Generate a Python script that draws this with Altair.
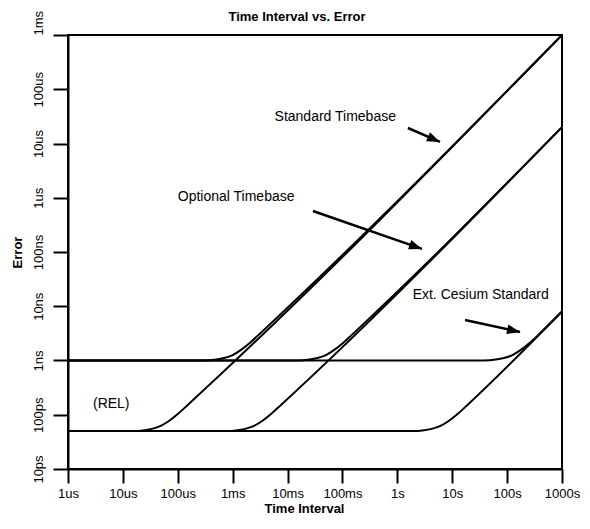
import altair as alt
import pandas as pd

# ---- axis ticks ----
x_tick_values = [1e-6, 1e-5, 1e-4, 1e-3, 1e-2, 1e-1, 1, 10, 100, 1000]
x_tick_labels = ["1us", "10us", "100us", "1ms", "10ms", "100ms", "1s", "10s", "100s", "1000s"]
y_tick_values = [1e-11, 1e-10, 1e-9, 1e-8, 1e-7, 1e-6, 1e-5, 1e-4, 1e-3]
y_tick_labels = ["10ps", "100ps", "1ns", "10ns", "100ns", "1us", "10us", "100us", "1ms"]

# ---- curves (time interval [s], error [s]) ----
std_1ns_t = [1e-6, 3e-4, 5e-4, 7e-4, 1e-3, 1.4e-3, 2e-3, 3e-3, 1e3]
std_1ns_e = [1e-9, 1e-9, 1.04e-9, 1.11e-9, 1.26e-9, 1.55e-9, 2.05e-9, 3e-9, 1e-3]
std_rel_t = [1e-6, 1.5e-5, 2.5e-5, 3.5e-5, 5e-5, 7e-5, 1e-4, 1.5e-4, 1e3]
std_rel_e = [5e-11, 5e-11, 5.2e-11, 5.55e-11, 6.3e-11, 7.75e-11, 1.03e-10, 1.5e-10, 1e-3]

opt_1ns_t = [1e-6, 1.5e-2, 2.5e-2, 3.5e-2, 5e-2, 7e-2, 1e-1, 1.5e-1, 1e3]
opt_1ns_e = [1e-9, 1e-9, 1.04e-9, 1.11e-9, 1.26e-9, 1.55e-9, 2.05e-9, 3e-9, 2e-5]
opt_rel_t = [1e-6, 7.5e-4, 1.25e-3, 1.75e-3, 2.5e-3, 3.5e-3, 5e-3, 7.5e-3, 1e3]
opt_rel_e = [5e-11, 5e-11, 5.2e-11, 5.55e-11, 6.3e-11, 7.75e-11, 1.03e-10, 1.5e-10, 2e-5]

ces_1ns_t = [1e-6, 37.5, 62.5, 87.5, 125, 175, 250, 375, 1e3]
ces_1ns_e = [1e-9, 1e-9, 1.04e-9, 1.11e-9, 1.26e-9, 1.55e-9, 2.05e-9, 3e-9, 8e-9]
ces_rel_t = [1e-6, 1.9, 3.1, 4.4, 6.25, 8.75, 12.5, 18.75, 1e3]
ces_rel_e = [5e-11, 5e-11, 5.2e-11, 5.55e-11, 6.3e-11, 7.75e-11, 1.03e-10, 1.5e-10, 8e-9]

# ---- annotations ----
label_texts = ["Standard Timebase", "Optional Timebase", "Ext. Cesium Standard", "(REL)"]
label_t = [5.8e-3, 1.0e-4, 1.9, 2.85e-6]
label_e = [3.08e-5, 1.03e-6, 1.61e-8, 1.58e-10]

arrow_t1 = [1.56, 0.029, 17.1]
arrow_e1 = [1.93e-5, 5.7e-7, 5.58e-9]
arrow_t2 = [5.98, 2.81, 172.0]
arrow_e2 = [1.07e-5, 1.14e-7, 3.35e-9]

W, H = 494, 434
X_DEC, Y_DEC = 9, 8

curves = [
    ("std_1ns", std_1ns_t, std_1ns_e), ("std_rel", std_rel_t, std_rel_e),
    ("opt_1ns", opt_1ns_t, opt_1ns_e), ("opt_rel", opt_rel_t, opt_rel_e),
    ("ces_1ns", ces_1ns_t, ces_1ns_e), ("ces_rel", ces_rel_t, ces_rel_e),
]
rows = []
for name, ts, es in curves:
    for i, (t, e) in enumerate(zip(ts, es)):
        rows.append({"curve": name, "i": i, "t": t, "e": e})
curve_df = pd.DataFrame(rows)
label_df = pd.DataFrame({"text": label_texts, "t": label_t, "e": label_e})
arrow_df = pd.DataFrame({"t1": arrow_t1, "e1": arrow_e1, "t2": arrow_t2, "e2": arrow_e2})

def js_list(items):
    return "[" + ",".join("'" + s + "'" for s in items) + "]"

x_expr = js_list(x_tick_labels) + "[round(log(datum.value)/LN10)+6]"
y_expr = js_list(y_tick_labels) + "[round(log(datum.value)/LN10)+11]"

FONT = "Liberation Sans"

xscale = alt.Scale(type="log", domain=[1e-6, 1e3], nice=False)
yscale = alt.Scale(type="log", domain=[1e-11, 1e-3], nice=False)

xaxis = alt.Axis(values=x_tick_values, labelExpr=x_expr, title="Time Interval",
                 labelFlush=False, labelOverlap=False, labelPadding=4, titlePadding=2,
                 tickSize=14, titleX=236, titleAlign="center")
yaxis = alt.Axis(values=y_tick_values, labelExpr=y_expr, title="Error",
                 labelFlush=False, labelOverlap=False, labelAngle=270,
                 labelAlign={"condition": {"test": "datum.value > 0.0009", "value": "left"},
                             "value": "center"},
                 labelBaseline="bottom", labelPadding=8, titlePadding=8)

lines = alt.Chart(curve_df).mark_line(color="black", strokeWidth=2, interpolate="monotone").encode(
    x=alt.X("t:Q", scale=xscale, axis=xaxis),
    y=alt.Y("e:Q", scale=yscale, axis=yaxis),
    detail="curve:N",
    order="i:Q",
)

texts = alt.Chart(label_df).mark_text(align="left", baseline="middle", font=FONT,
                                      fontSize=14, color="black").encode(
    x=alt.X("t:Q", scale=xscale),
    y=alt.Y("e:Q", scale=yscale),
    text="text:N",
)

arrow_lines = alt.Chart(arrow_df).mark_rule(color="black", strokeWidth=2.5).encode(
    x=alt.X("t1:Q", scale=xscale), y=alt.Y("e1:Q", scale=yscale),
    x2="t2:Q", y2="e2:Q",
)

arrow_heads = alt.Chart(arrow_df).transform_calculate(
    ang="atan2(-(log(datum.e2)-log(datum.e1))/LN10*%f, (log(datum.t2)-log(datum.t1))/LN10*%f)*180/PI"
    % (H / Y_DEC, W / X_DEC)
).mark_point(shape="M0,0 L-1,-0.38 L-1,0.38 Z", filled=True, color="black",
             size=676, opacity=1, strokeWidth=0).encode(
    x=alt.X("t2:Q", scale=xscale), y=alt.Y("e2:Q", scale=yscale),
    angle=alt.Angle("ang:Q", scale=None),
)

chart = alt.layer(lines, arrow_lines, arrow_heads, texts).properties(
    width=W, height=H,
    title=alt.TitleParams("Time Interval vs. Error", font=FONT, fontSize=13,
                          fontWeight="bold", offset=-14, dx=-18, color="black"),
    autosize=alt.AutoSizeParams(type="none"),
    padding={"left": 60, "top": 27, "right": 18, "bottom": 47},
).configure_view(stroke="black", strokeWidth=2).configure_axis(
    grid=False, domainColor="black", domainWidth=2, tickColor="black", tickWidth=2,
    tickSize=15, labelFont=FONT, labelFontSize=13, labelColor="black",
    titleFont=FONT, titleFontSize=13, titleFontWeight="bold", titleColor="black",
)

chart.save("out.html", embed_options={"renderer": "svg", "actions": False})
